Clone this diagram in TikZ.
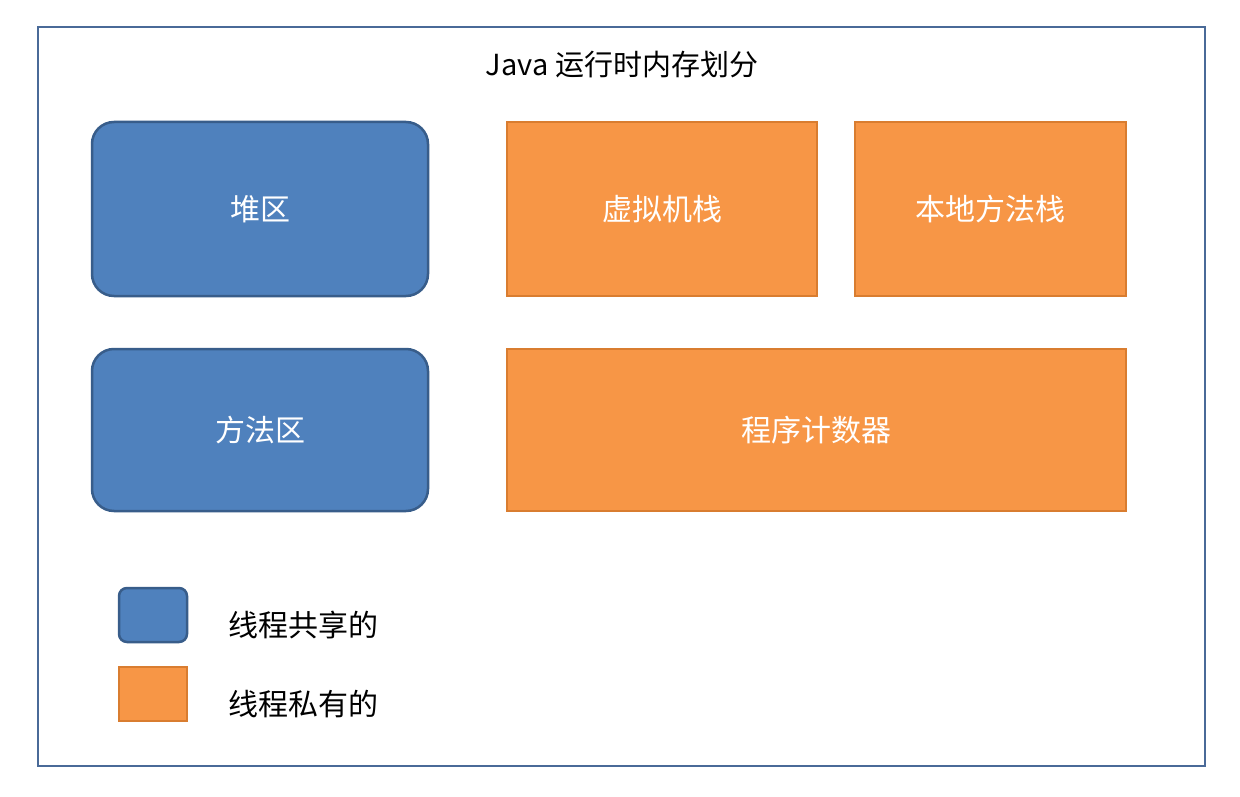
\documentclass[tikz,border=0pt]{standalone}
\usepackage{fontspec}
\newfontfamily\cjk{Noto Sans CJK SC}
\begin{document}
\begin{tikzpicture}[x=1pt,y=-1pt,
 blue/.style={fill=blue!0!black!0!white!0!bluec, draw=bluedraw, line width=2.5pt, rounded corners=22pt},
 org/.style={fill=orgc, draw=orgdraw, line width=2.5pt},
 lbl/.style={text=white, font=\cjk\fontsize{30}{36}\selectfont},
 lg/.style={font=\cjk\fontsize{30}{36}\selectfont, anchor=west}]
\definecolor{bluec}{HTML}{4F81BD}
\definecolor{bluedraw}{HTML}{385D8A}
\definecolor{orgc}{HTML}{F79646}
\definecolor{orgdraw}{HTML}{D97D30}
\definecolor{frame}{HTML}{4A6A98}
\useasboundingbox (0,0) rectangle (1240,797);
\fill[white] (0,0) rectangle (1240,797);
\draw[frame, line width=2.5pt] (38,27) rectangle (1205,766);
\node[font=\cjk\fontsize{29}{34}\selectfont] (title) at (622,65) {Java 运行时内存划分};
\draw[blue] (92,122) rectangle (428,296); \node[lbl] (heap) at (260,209) {堆区};
\draw[blue] (92,349) rectangle (428,511); \node[lbl] (meth) at (260,430) {方法区};
\draw[org] (507,122) rectangle (817,296); \node[lbl] (vms) at (662,209) {虚拟机栈};
\draw[org] (855,122) rectangle (1126,296); \node[lbl] (nms) at (990,209) {本地方法栈};
\draw[org] (507,349) rectangle (1126,511); \node[lbl] (pc) at (816,430) {程序计数器};
\draw[blue, rounded corners=8pt] (119,588) rectangle (187,642);
\node[lg] (l1) at (225,625) {线程共享的};
\draw[org] (119,667) rectangle (187,721);
\node[lg] (l2) at (225,704) {线程私有的};
\end{tikzpicture}
\end{document}
